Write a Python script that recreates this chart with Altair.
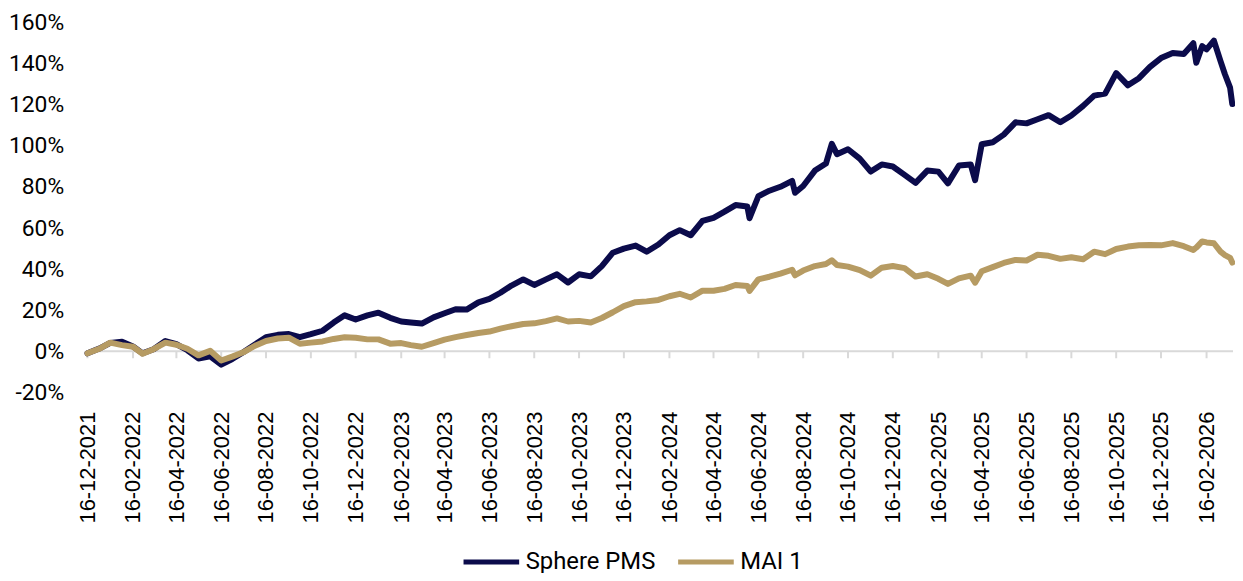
import altair as alt
import pandas as pd

dates = [
    "2021-12-16", "2022-01-01", "2022-01-16", "2022-02-01", "2022-02-16", "2022-03-01", "2022-03-16",
    "2022-04-01", "2022-04-16", "2022-05-01", "2022-05-16", "2022-06-01", "2022-06-16", "2022-07-01",
    "2022-07-16", "2022-08-01", "2022-08-16", "2022-09-01", "2022-09-16", "2022-10-01", "2022-10-16",
    "2022-11-01", "2022-11-16", "2022-12-01", "2022-12-16", "2023-01-01", "2023-01-16", "2023-02-01",
    "2023-02-16", "2023-03-01", "2023-03-16", "2023-04-01", "2023-04-16", "2023-05-01", "2023-05-16",
    "2023-06-01", "2023-06-16", "2023-07-01", "2023-07-16", "2023-08-01", "2023-08-16", "2023-09-01",
    "2023-09-16", "2023-10-01", "2023-10-16", "2023-11-01", "2023-11-16", "2023-12-01", "2023-12-16",
    "2024-01-01", "2024-01-16", "2024-02-01", "2024-02-16", "2024-03-01", "2024-03-16", "2024-04-01",
    "2024-04-16", "2024-05-01", "2024-05-16", "2024-06-01", "2024-06-04", "2024-06-16", "2024-07-01",
    "2024-07-16", "2024-08-01", "2024-08-05", "2024-08-16", "2024-09-01", "2024-09-16", "2024-09-24",
    "2024-10-01", "2024-10-16", "2024-11-01", "2024-11-16", "2024-12-01", "2024-12-16", "2025-01-01",
    "2025-01-16", "2025-02-01", "2025-02-16", "2025-03-01", "2025-03-16", "2025-04-01", "2025-04-07",
    "2025-04-16", "2025-05-01", "2025-05-16", "2025-06-01", "2025-06-16", "2025-07-01", "2025-07-16",
    "2025-08-01", "2025-08-16", "2025-09-01", "2025-09-16", "2025-10-01", "2025-10-16", "2025-11-01",
    "2025-11-16", "2025-12-01", "2025-12-16", "2026-01-01", "2026-01-16", "2026-01-29", "2026-02-02",
    "2026-02-10", "2026-02-16", "2026-02-26", "2026-03-07", "2026-03-13", "2026-03-20", "2026-03-23",
]

sphere_pms = [
    -1.0, 1.3, 4.1, 4.6, 2.3, -1.0, 1.0,
    5.0, 3.5, 0.5, -3.5, -2.5, -6.5, -3.8,
    -0.5, 3.3, 6.9, 8.0, 8.4, 6.9, 8.3,
    10.0, 14.0, 17.5, 15.5, 17.5, 18.8, 16.3,
    14.5, 14.0, 13.5, 16.5, 18.5, 20.5, 20.3,
    23.8, 25.5, 28.5, 32.0, 35.0, 32.3, 35.0,
    37.5, 33.5, 37.5, 36.5, 41.5, 48.0, 50.0,
    51.5, 48.5, 52.0, 56.5, 59.0, 56.5, 63.5,
    65.0, 68.0, 71.2, 70.5, 64.8, 75.5, 78.2,
    80.1, 83.0, 77.2, 80.5, 88.0, 91.4, 101.0,
    96.0, 98.4, 93.8, 87.5, 91.0, 90.0, 85.9,
    82.0, 88.0, 87.5, 81.8, 90.5, 91.0, 83.3,
    100.8, 101.8, 105.5, 111.5, 111.0, 113.0, 115.0,
    111.5, 114.8, 119.5, 124.5, 125.5, 135.5, 129.5,
    133.0, 138.5, 142.8, 145.3, 144.8, 150.0, 140.5,
    148.6, 147.0, 151.3, 141.3, 134.9, 128.4, 120.4,
]

mai_1 = [
    -1.0, 1.2, 4.2, 3.0, 2.2, -1.2, 1.0,
    4.2, 3.2, 1.2, -2.0, 0.2, -4.5, -2.6,
    -0.5, 2.7, 5.0, 6.2, 6.6, 3.7, 4.2,
    4.8, 6.0, 6.8, 6.6, 5.8, 5.8, 3.7,
    4.0, 3.0, 2.2, 4.0, 5.7, 6.9, 7.9,
    8.9, 9.6, 11.0, 12.2, 13.3, 13.6, 14.7,
    16.0, 14.5, 14.8, 14.0, 16.2, 19.0, 22.0,
    23.9, 24.3, 25.0, 26.8, 28.0, 26.2, 29.5,
    29.5, 30.4, 32.3, 31.8, 29.4, 35.0, 36.3,
    37.8, 39.7, 37.0, 39.3, 41.5, 42.5, 44.3,
    42.0, 41.2, 39.5, 36.8, 40.7, 41.5, 40.5,
    36.4, 37.5, 35.3, 32.8, 35.5, 36.8, 33.4,
    39.0, 41.0, 43.0, 44.5, 44.2, 47.0, 46.5,
    45.0, 45.8, 44.8, 48.5, 47.3, 49.8, 51.0,
    51.6, 51.8, 51.6, 52.7, 51.2, 49.3, 50.5,
    53.5, 53.0, 52.6, 48.5, 46.8, 45.5, 43.2,
]

tick_months = [
    (2021, 12), (2022, 2), (2022, 4), (2022, 6), (2022, 8), (2022, 10), (2022, 12),
    (2023, 2), (2023, 4), (2023, 6), (2023, 8), (2023, 10), (2023, 12),
    (2024, 2), (2024, 4), (2024, 6), (2024, 8), (2024, 10), (2024, 12),
    (2025, 2), (2025, 4), (2025, 6), (2025, 8), (2025, 10), (2025, 12),
    (2026, 2),
]
y_ticks = [-20, 0, 20, 40, 60, 80, 100, 120, 140, 160]

series_names = ["Sphere PMS", "MAI 1"]
series_colors = ["#0b0b4b", "#b69b63"]

df = pd.DataFrame({"date": dates, "Sphere PMS": sphere_pms, "MAI 1": mai_1})
long = df.melt("date", var_name="series", value_name="value")
ticks_df = pd.DataFrame({"date": [f"{y}-{m:02d}-16" for y, m in tick_months]})

x_enc = alt.X(
    "date:T",
    scale=alt.Scale(
        type="utc",
        domain=[alt.DateTime(year=2021, month=12, date=16, utc=True),
                alt.DateTime(year=2026, month=3, date=24, utc=True)],
        nice=False,
    ),
    axis=alt.Axis(
        values=[alt.DateTime(year=y, month=m, date=16, utc=True) for y, m in tick_months],
        format="%d-%m-%Y",
        labelAngle=-90,
        labelFont="Liberation Sans",
        labelFontSize=22,
        labelColor="#000000",
        labelPadding=19,
        labelOverlap=False,
        ticks=False,
        domain=False,
        grid=False,
        title=None,
    ),
)

y_enc = alt.Y(
    "value:Q",
    scale=alt.Scale(domain=[-20, 160], nice=False),
    axis=alt.Axis(
        values=y_ticks,
        labelExpr="datum.value + '%'",
        labelFont="Roboto",
        labelFontSize=23,
        labelColor="#000000",
        labelPadding=24,
        ticks=False,
        domain=False,
        grid=False,
        title=None,
    ),
)

color_enc = alt.Color(
    "series:N",
    scale=alt.Scale(domain=series_names, range=series_colors),
    legend=alt.Legend(
        orient="none",
        legendX=376,
        legendY=512,
        direction="horizontal",
        title=None,
        symbolType="stroke",
        symbolSize=3136,
        symbolStrokeWidth=5,
        labelFont="Roboto",
        labelFontSize=24,
        labelColor="#000000",
        labelOffset=4,
        columnPadding=12,
    ),
)

zero_line = alt.Chart(pd.DataFrame({"value": [0]})).mark_rule(
    color="#d9d9d9", strokeWidth=2
).encode(y=y_enc)

tick_marks = alt.Chart(ticks_df).mark_rule(color="#d9d9d9", strokeWidth=2).encode(
    x=x_enc, y=alt.datum(0), y2=alt.datum(-3.4)
)

navy_line = alt.Chart(long[long["series"] == "Sphere PMS"]).mark_line(
    strokeWidth=6, strokeJoin="round", strokeCap="round"
).encode(x=x_enc, y=y_enc, color=color_enc)

tan_line = alt.Chart(long[long["series"] == "MAI 1"]).mark_line(
    strokeWidth=6, strokeJoin="round", strokeCap="round"
).encode(x=x_enc, y=y_enc, color=color_enc)

chart = alt.layer(zero_line, tick_marks, navy_line, tan_line).properties(
    width=1153,
    height=372,
    autosize=alt.AutoSizeParams(type="none"),
    padding={"left": 80, "top": 13, "right": 2, "bottom": 180},
).configure_view(stroke=None)

chart.save("out.html", embed_options={"renderer": "svg", "actions": False})
